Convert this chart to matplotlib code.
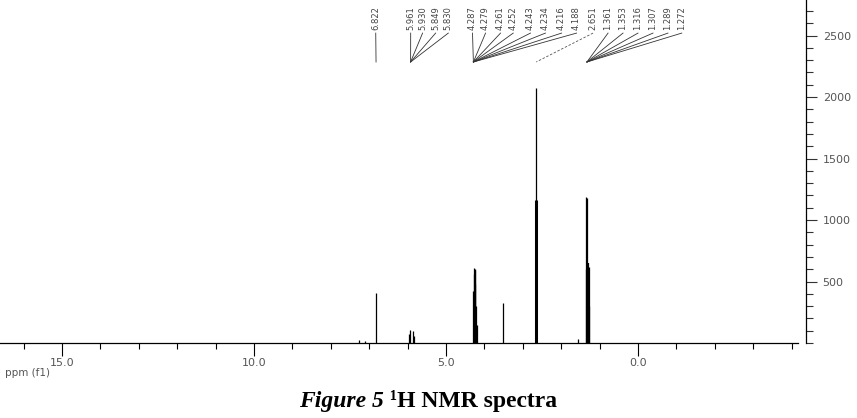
import matplotlib.pyplot as plt
from matplotlib.ticker import MultipleLocator

# peak list (ppm, intensity)
peak_ppm = [7.26, 7.12, 6.822, 5.961, 5.930, 5.849, 5.830,
            4.287, 4.279, 4.261, 4.252, 4.243, 4.234, 4.216, 4.188,
            3.52, 2.655, 2.648, 1.56,
            1.361, 1.353, 1.316, 1.307, 1.289, 1.272]
peak_int = [25, 15, 405, 75, 105, 95, 60,
            420, 560, 610, 600, 590, 480, 300, 150,
            325, 2075, 1160, 30,
            600, 1190, 1180, 650, 620, 300]

# peak labels printed on top
label_text = ["6.822", "5.961", "5.930", "5.849", "5.830",
              "4.287", "4.279", "4.261", "4.252", "4.243", "4.234", "4.216", "4.188",
              "2.651",
              "1.361", "1.353", "1.316", "1.307", "1.289", "1.272"]
label_group = [0, 1, 1, 1, 1, 2, 2, 2, 2, 2, 2, 2, 2, 3, 4, 4, 4, 4, 4, 4]
group_anchor = [6.822, 5.922, 4.287, 2.651, 1.33]

x_major = [15.0, 10.0, 5.0, 0.0]
y_major = [500, 1000, 1500, 2000, 2500]

fig = plt.figure(figsize=(8.57, 4.18), dpi=100)
ax = fig.add_axes([0.0, 75 / 418, 806 / 857, 343 / 418])

# thin tips, thicker where the multiplets pile up
widths = [0.9] * len(peak_ppm)
widths[peak_ppm.index(2.648)] = 2.2
widths[peak_ppm.index(1.307)] = 1.6
ax.vlines(peak_ppm, 0, peak_int, color="black", lw=widths)

ax.set_xlim(16.615, -4.375)
ax.set_ylim(0, 2789)

# label positions (ppm) laid out above the peaks
label_x = [6.83, 5.92, 5.61, 5.27, 4.94,
           4.31, 3.97, 3.58, 3.25, 2.80, 2.41, 1.99, 1.60,
           1.17,
           0.78, 0.39, 0.0, -0.39, -0.78, -1.14]
y_lab, y_top, y_bot = 2545, 2520, 2285
for txt, lx, g in zip(label_text, label_x, label_group):
    ax.text(lx, y_lab, txt, rotation=90, ha="center", va="bottom",
            fontsize=6, color="#444444")
    if g == 3:
        ax.plot([lx, group_anchor[g]], [y_top, y_bot], color="#555555", lw=0.6,
                ls=(0, (3, 2)))
    else:
        ax.plot([lx, group_anchor[g]], [y_top, y_bot], color="#333333", lw=0.6)

# axes styling (right y axis, ppm axis reversed)
for s in ["left", "top"]:
    ax.spines[s].set_visible(False)
ax.spines["bottom"].set_bounds(16.615, -4.17)
ax.spines["bottom"].set_linewidth(0.9)
ax.spines["right"].set_linewidth(0.9)
ax.yaxis.tick_right()
ax.set_yticks(y_major)
ax.set_yticklabels([str(v) for v in y_major])
ax.yaxis.set_minor_locator(MultipleLocator(100))
ax.tick_params(axis="y", which="major", length=8, width=0.8, pad=4,
               labelsize=8, colors="#333333")
ax.tick_params(axis="y", which="minor", length=5, width=0.8, color="#333333")
ax.tick_params(axis="y", labelcolor="#555555")

ax.set_xticks(x_major)
ax.set_xticklabels(["%.1f" % v for v in x_major])
ax.xaxis.set_minor_locator(MultipleLocator(1))
ax.tick_params(axis="x", which="major", length=9, width=0.8, pad=2,
               labelsize=8, labelcolor="#555555")
ax.tick_params(axis="x", which="minor", length=4, width=0.8)

fig.text(5 / 857, 1 - 373 / 418, "ppm (f1)", fontsize=7.5, color="#555555",
         ha="left", va="center")

fig.text(384 / 857, 1 - 401 / 418, "Figure 5", fontsize=17, fontweight="bold",
         fontstyle="italic", family="Liberation Serif", ha="right", va="center")
fig.text(390 / 857, 1 - 401 / 418, "\u00b9H NMR spectra", fontsize=17,
         fontweight="bold", family="Liberation Serif", ha="left", va="center")

fig.savefig("out.png", dpi=100)
